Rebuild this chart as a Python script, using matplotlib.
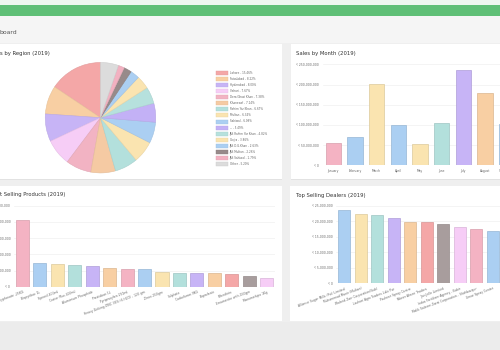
import matplotlib
matplotlib.use("Agg")
import matplotlib.pyplot as plt
from matplotlib.patches import Rectangle
from matplotlib.colors import to_rgb

plt.rcParams['font.family'] = ['DejaVu Sans']

# ---------------- data ----------------
region_labels = ["Lahore", "Faisalabad", "Hyderabad", "Vehari", "Dera Ghazi Khan",
                 "Khanewal", "Rahim Yar Khan", "Multan", "Sahiwal", "--",
                 "JAS Rahim Yar Khan", "Gojra", "JAS D.G.Khan", "JAS Multan",
                 "JAS Sahiwal", "Other"]
region_pct = [15.46, 8.22, 8.00, 7.67, 7.38, 7.14, 6.67, 6.34, 6.08, 5.49,
              4.82, 3.86, 2.63, 2.26, 1.79, 5.20]
region_colors = ["#f4a7a7", "#f8cfa3", "#c7b4f6", "#f6cdf6", "#f2b3c3",
                 "#f5caa3", "#b3e0dc", "#fae4b0", "#abcff2", "#c3b1f6",
                 "#b6e1dd", "#fae4b0", "#abcff2", "#978a8a", "#f2b1c1", "#dcdcdc"]

months = ["January", "February", "March", "April", "May", "June", "July",
          "August", "September"]
month_sales = [54.5e6, 70.8e6, 200.5e6, 99.8e6, 53.5e6, 105.5e6, 236e6,
               179e6, 101.5e6]
month_colors = ["#f4b3c3", "#abcff2", "#fae4b0", "#abcff2", "#fae4b0",
                "#b3e0dc", "#c7b4f6", "#f8cfa3", "#abcff2"]
month_ticks = [0, 50e6, 100e6, 150e6, 200e6, 250e6]

products = ["Glyphosate -25KG", "Bispyribac 1L", "Fipronil 400ml",
            "Coster Plus 400ml", "Aluminium Phosphide", "Prestoban 1L",
            "Pyriproxyfen 250ml", "Heavy Zinking ZINC 36% (6 H2O) - 120 gm",
            "Zinco 250gm", "Sulphate", "Carbofuran 9KG", "Buprofezin",
            "Bifenthrin", "Emamectin with 250gm", "Monomehipo 1Kg"]
product_sales = [41.2e6, 14.8e6, 13.8e6, 13.2e6, 12.8e6, 11.7e6, 10.7e6,
                 10.7e6, 9.1e6, 8.6e6, 8.6e6, 8.3e6, 7.8e6, 6.4e6, 5.4e6]
product_colors = ["#f4b3c3", "#abcff2", "#fae4b0", "#b3e0dc", "#c7b4f6",
                  "#f8cfa3", "#f4b3c3", "#abcff2", "#fae4b0", "#b3e0dc",
                  "#c7b4f6", "#f8cfa3", "#f4a7a7", "#a89d9d", "#f6cdf6"]
product_ticks = [0, 10e6, 20e6, 30e6, 40e6, 50e6]

dealers = ["Alliance Sugar Mills (Pvt) Limited", "Muhammad Munir (Multan)",
           "Waleed Zarr Corporation(Sub)", "Lashari Agro Traders Lalo Pur",
           "Pasheer Spray Centre", "Tabeer Ahsen Traders", "Jinn Jelle Limited",
           "Indus Fertilizer Agency - Kabir",
           "Malik Saleem Zarai Corporation - Shahbazpur", "Umar Spray Center"]
dealer_sales = [23.6e6, 22.3e6, 21.9e6, 21.1e6, 19.7e6, 19.6e6, 19.2e6,
                18.2e6, 17.6e6, 16.9e6]
dealer_colors = ["#abcff2", "#fae4b0", "#b3e0dc", "#c7b4f6", "#f8cfa3",
                 "#f4a7a7", "#a89d9d", "#f6cdf6", "#f4b3c3", "#abcff2"]
dealer_ticks = [0, 5e6, 10e6, 15e6, 20e6, 25e6]

# ---------------- helpers ----------------
W, H = 500, 350
fig = plt.figure(figsize=(5, 3.5), dpi=100)
fig.patch.set_facecolor("#efefef")


def px_axes(x0, y0, x1, y1, **kw):
    return fig.add_axes([x0 / W, 1 - y1 / H, (x1 - x0) / W, (y1 - y0) / H], **kw)


def darker(c, f=0.88):
    r, g, b = to_rgb(c)
    return (r * f, g * f, b * f)


def rupee(v):
    return "\u20b9 " + f"{int(v):,}"


bg = px_axes(0, 0, W, H)
bg.set_xlim(0, W)
bg.set_ylim(H, 0)
bg.axis("off")
bg.set_zorder(-10)

# top bars
bg.add_patch(Rectangle((0, 0), W, 4.5, color="#eef6ef", lw=0))
bg.add_patch(Rectangle((0, 4.5), W, 11, color="#5fbf76", lw=0))
bg.add_patch(Rectangle((0, 15.5), W, 27.5, color="#f5f5f5", lw=0))
bg.text(0, 33.5, "board", fontsize=4.4, color="#555555", va="baseline")
# bottom shade
bg.add_patch(Rectangle((0, 322), W, 28, color="#ececec", lw=0))

# panels
for (x0, y0, x1, y1) in [(-2, 43.5, 282, 179), (291, 43.5, 502, 179),
                         (-2, 186, 282, 320.5), (290, 186, 502, 320.5)]:
    bg.add_patch(Rectangle((x0, y0 + 0.8), x1 - x0, y1 - y0, color="#e2e2e2", lw=0))
    bg.add_patch(Rectangle((x0, y0), x1 - x0, y1 - y0, color="white", lw=0))

title_kw = dict(fontsize=3.8, color="#333333", va="baseline")
bg.text(0, 55.5, "s by Region (2019)", **title_kw)
bg.text(296, 55.5, "Sales by Month (2019)", **title_kw)
bg.text(0, 196, "t Selling Products (2019)", **title_kw)
bg.text(296, 196.5, "Top Selling Dealers (2019)", **title_kw)

# ---------------- pie ----------------
axp = px_axes(45, 62.2, 156, 173.2)
wedges, _ = axp.pie(region_pct, colors=region_colors, startangle=90,
                    counterclock=True, wedgeprops=dict(linewidth=0.4))
for w, c in zip(wedges, region_colors):
    w.set_edgecolor(darker(c, 0.93))
axp.set_xlim(-1.005, 1.005)
axp.set_ylim(-1.005, 1.005)
axp.set_aspect("auto")
axp.axis("off")

# legend
y_first, y_step = 72.7, 6.1
for i, (lab, pct, col) in enumerate(zip(region_labels, region_pct, region_colors)):
    yy = y_first + i * y_step
    bg.add_patch(Rectangle((216, yy - 2), 12, 4, facecolor=col,
                           edgecolor=darker(col, 0.93), lw=0.3))
    bg.text(229.5, yy, f"{lab} - {pct:.2f}%", fontsize=2.0, color="#666666",
            va="center", ha="left")


def style_bar_axes(ax, ticks):
    ax.set_yticks(ticks)
    ax.set_yticklabels([rupee(t) for t in ticks])
    ax.set_ylim(ticks[0], ticks[-1])
    for s in ax.spines.values():
        s.set_visible(False)
    ax.grid(axis="y", color="#ececec", linewidth=0.4)
    ax.set_axisbelow(True)
    ax.tick_params(axis="both", length=0, labelsize=2.2, labelcolor="#666666",
                   pad=2.5)
    ax.set_facecolor("none")


# ---------------- month bars ----------------
axm = px_axes(322.5, 64.3, 322.5 + 9 * 21.67, 165.3)
xm = list(range(len(months)))
axm.bar(xm, month_sales, width=0.72, color=month_colors,
        edgecolor=[darker(c) for c in month_colors], linewidth=0.5)
axm.set_xlim(-0.5, len(months) - 0.5)
style_bar_axes(axm, month_ticks)
axm.set_xticks(xm)
axm.set_xticklabels(months)

# ---------------- products ----------------
axq = px_axes(13.8, 205.7, 275.4, 286.7)
xq = list(range(len(products)))
axq.bar(xq, product_sales, width=0.75, color=product_colors,
        edgecolor=[darker(c) for c in product_colors], linewidth=0.5)
axq.set_xlim(-0.5, len(products) - 0.5)
style_bar_axes(axq, product_ticks)
axq.set_xticks(xq)
axq.set_xticklabels(products, rotation=20, ha="right", rotation_mode="anchor")

# ---------------- dealers ----------------
axd = px_axes(336, 205.7, 336 + 10 * 16.5, 283.3)
xd = list(range(len(dealers)))
axd.bar(xd, dealer_sales, width=0.71, color=dealer_colors,
        edgecolor=[darker(c) for c in dealer_colors], linewidth=0.5)
axd.set_xlim(-0.5, len(dealers) - 0.5)
style_bar_axes(axd, dealer_ticks)
axd.set_xticks(xd)
axd.set_xticklabels(dealers, rotation=20, ha="right", rotation_mode="anchor")

fig.savefig("out.png", dpi=100, facecolor=fig.get_facecolor())
